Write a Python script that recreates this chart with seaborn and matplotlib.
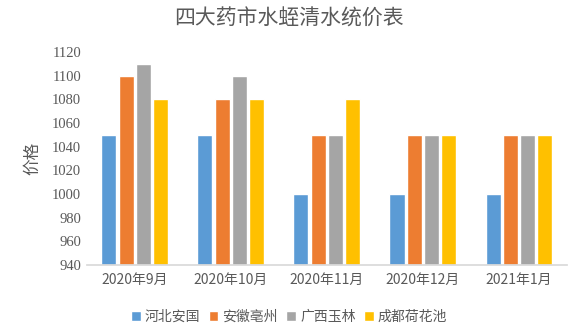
import matplotlib
matplotlib.use("Agg")
import matplotlib.pyplot as plt
import seaborn as sns
import pandas as pd
from matplotlib.patches import Patch
from matplotlib.ticker import FixedLocator

categories = ["2020年9月", "2020年10月", "2020年11月", "2020年12月", "2021年1月"]
series_names = ["河北安国", "安徽亳州", "广西玉林", "成都荷花池"]
hebei = [1050, 1050, 1000, 1000, 1000]
anhui = [1100, 1080, 1050, 1050, 1050]
guangxi = [1110, 1100, 1050, 1050, 1050]
chengdu = [1080, 1080, 1080, 1050, 1050]
colors = ["#5B9BD5", "#ED7D31", "#A5A5A5", "#FFC000"]
yticks = list(range(940, 1121, 20))

rows = []
for name, vals in zip(series_names, [hebei, anhui, guangxi, chengdu]):
    for c, v in zip(categories, vals):
        rows.append({"month": c, "market": name, "price": v})
df = pd.DataFrame(rows)

sns.set_theme(style="white")
plt.rcParams['font.family'] = ['Noto Sans CJK SC', 'DejaVu Sans']

fig = plt.figure(figsize=(5.78, 3.36), dpi=100)
ax = fig.add_axes([0.150, 0.211, 0.831, 0.634])
sns.barplot(data=df, x="month", y="price", hue="market", order=categories,
            hue_order=series_names, palette=colors, width=0.72, gap=0.13,
            ax=ax, legend=False, saturation=1)
for p in ax.patches:
    h = p.get_height()
    p.set_y(940)
    p.set_height(h - 940)
ax.set_ylim(940, 1120)
ax.set_xlim(-0.5, 4.5)
ax.set_yticks(yticks)
ax.set_yticklabels([str(t) for t in yticks], fontsize=10.5, color="#595959",
                   family=['Liberation Serif', 'DejaVu Serif'])
ax.set_xticklabels(categories, fontsize=10, color="#595959",
                   family=['Noto Sans CJK SC', 'DejaVu Sans'])
ax.tick_params(axis='x', which='major', length=0, pad=6)
ax.tick_params(axis='y', length=0, pad=4)
ax.xaxis.set_minor_locator(FixedLocator([-0.5, 0.5, 1.5, 2.5, 3.5, 4.5]))
ax.tick_params(axis='x', which='minor', length=5, color="#D9D9D9", width=1, direction='out')
for s in ["top", "right", "left"]:
    ax.spines[s].set_visible(False)
ax.spines["bottom"].set_color("#D9D9D9")
ax.set_xlabel("")
ax.set_ylabel("价格", fontsize=12, color="#595959", labelpad=8)
ax.grid(False)

fig.text(0.5, 0.945, "四大药市水蛭清水统价表", ha="center", va="center",
         fontsize=15, color="#595959")
handles = [Patch(facecolor=c, label=n) for c, n in zip(colors, series_names)]
fig.legend(handles=handles, loc="center", bbox_to_anchor=(0.5, 0.058), ncol=4,
           frameon=False, fontsize=10, handlelength=0.7, handleheight=0.7,
           handletextpad=0.3, columnspacing=0.6, labelcolor="#595959")
fig.savefig("out.png", dpi=100)
